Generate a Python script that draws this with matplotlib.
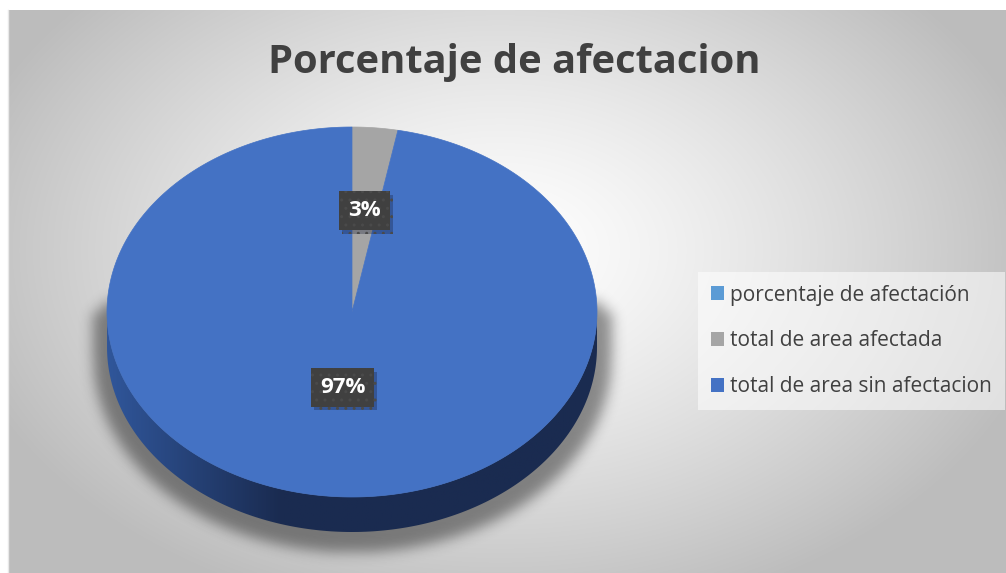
import numpy as np
import matplotlib
matplotlib.use('Agg')
import matplotlib.pyplot as plt
from matplotlib.patches import Polygon, Patch
from matplotlib import patheffects

# data
categories = ['porcentaje de afectación', 'total de area afectada', 'total de area sin afectacion']
values = [0, 3, 97]
colors = ['#5B9BD5', '#A5A5A5', '#4472C4']
side_colors = [('#3A6CA8', '#1F3A5E'), ('#7F7F7F', '#4F4F4F'), ('#30569A', '#1A2B50')]
title = 'Porcentaje de afectacion'

W, H = 1006, 573
fig = plt.figure(figsize=(W / 100, H / 100), dpi=100)
ax = fig.add_axes([0, 0, 1, 1])
ax.set_xlim(0, W)
ax.set_ylim(H, 0)
ax.axis('off')

# chart area with radial gradient
x0, y0 = 8, 10
yy, xx = np.mgrid[y0:H, x0:W]
d = np.sqrt(((xx - 500) / 620.0) ** 2 + ((yy - 250) / 420.0) ** 2)
g = np.clip(1.0 - 0.30 * d ** 1.3, 0.74, 1.0)
bg = np.dstack([g, g, g])
ax.imshow(bg, extent=(x0, W, H, y0), zorder=0, interpolation='bilinear')
ax.plot([x0 + 0.5, x0 + 0.5], [y0, H], color='#e8e8e8', lw=1, zorder=1)

# pie geometry (pixels)
cx, cy = 352, 312
a, b = 245, 185
depth = 35

def pt(theta, dy=0):
    t = np.radians(theta)
    return cx + a * np.sin(t), cy - b * np.cos(t) + dy

# soft shadow under the pie
sy, sx = np.mgrid[0:H, 0:W]
inside = (((sx - cx) / (a + 14)) ** 2 + ((sy - cy - depth - 10) / (b + 10)) ** 2) <= 1
inside |= ((np.abs(sx - cx) <= a + 14) & (sy >= cy) & (sy <= cy + depth + 10))
mask = inside.astype(float)
mask[sy < cy - 10] = 0
k = np.exp(-np.linspace(-3, 3, 41) ** 2 / 2)
k /= k.sum()
for axis in (0, 1):
    mask = np.apply_along_axis(lambda m: np.convolve(m, k, mode='same'), axis, mask)
shadow = np.zeros((H, W, 4))
shadow[..., 3] = 0.42 * mask
ax.imshow(shadow, extent=(0, W, H, 0), zorder=2, interpolation='bilinear')

# slice angles, clockwise from 12 o'clock
total = float(sum(values))
starts = np.concatenate([[0], np.cumsum(values)[:-1]]) / total * 360
ends = np.cumsum(values) / total * 360

# side walls (front half only, 90..270 degrees)
for s, e, (c1, c2) in zip(starts, ends, side_colors):
    lo, hi = max(s, 90), min(e, 270)
    if hi <= lo:
        continue
    th = np.linspace(lo, hi, 200)
    top = [pt(t) for t in th]
    bot = [pt(t, depth) for t in th[::-1]]
    poly = Polygon(top + bot, closed=True, facecolor='none', edgecolor='none', zorder=3)
    ax.add_patch(poly)
    # horizontal gradient: lighter on the left, darker on the right
    cmap = matplotlib.colors.LinearSegmentedColormap.from_list('side', [c2, c2, c1])
    grad = np.linspace(0, 1, 256)[None, :]
    grad = 1 - np.clip(grad * 1.4, 0, 1)
    im = ax.imshow(grad, cmap=cmap, extent=(cx - a, cx + a, cy + b + depth, cy),
                   aspect='auto', zorder=3, vmin=0, vmax=1)
    im.set_clip_path(poly)

# top face
for s, e, c in zip(starts, ends, colors):
    if e - s <= 0:
        continue
    th = np.linspace(s, e, max(int(e - s) * 2, 4))
    pts = [(cx, cy)] + [pt(t) for t in th]
    ax.add_patch(Polygon(pts, closed=True, facecolor=c, edgecolor=c, lw=0.5, zorder=4))

# data labels
label_r = [0.0, 0.55, 0.41]
for s, e, v, r in zip(starts, ends, values, label_r):
    if v <= 0:
        continue
    mid = np.radians((s + e) / 2)
    lx = cx + a * r * np.sin(mid)
    ly = cy - b * r * np.cos(mid)
    txt = f'{v / total * 100:.0f}%'
    t = ax.text(lx, ly, txt, fontsize=16, fontweight='bold', family='Open Sans',
                color='white', ha='center', va='center', zorder=6,
                bbox=dict(boxstyle='square,pad=0.4', facecolor='#404040', edgecolor='#4a4a4a',
                          lw=0, hatch='..'))
    t.get_bbox_patch().set_path_effects([
        patheffects.SimplePatchShadow(offset=(2, -2.5), shadow_rgbFace='#101830', alpha=0.3),
        patheffects.Normal()])

# title
ax.text(514, 62, title, fontsize=28.7, fontweight='bold', family='Open Sans',
        color='#404040', ha='center', va='center', zorder=6)

# legend
handles = [Patch(facecolor=c, edgecolor='none') for c in colors]
leg = ax.legend(handles, categories, loc='upper left',
                bbox_to_anchor=(698 / W, 1 - 272 / H), frameon=True,
                prop={'family': 'Open Sans', 'size': 15},
                handlelength=0.65, handleheight=0.65, handletextpad=0.3,
                labelspacing=1.2, borderpad=0.6, borderaxespad=0,
                labelcolor='#404040')
leg.get_frame().set_facecolor('white')
leg.get_frame().set_alpha(0.55)
leg.get_frame().set_edgecolor('none')
leg.get_frame().set_boxstyle('square', pad=0)
leg.set_zorder(7)

fig.savefig('out.png', dpi=100)
